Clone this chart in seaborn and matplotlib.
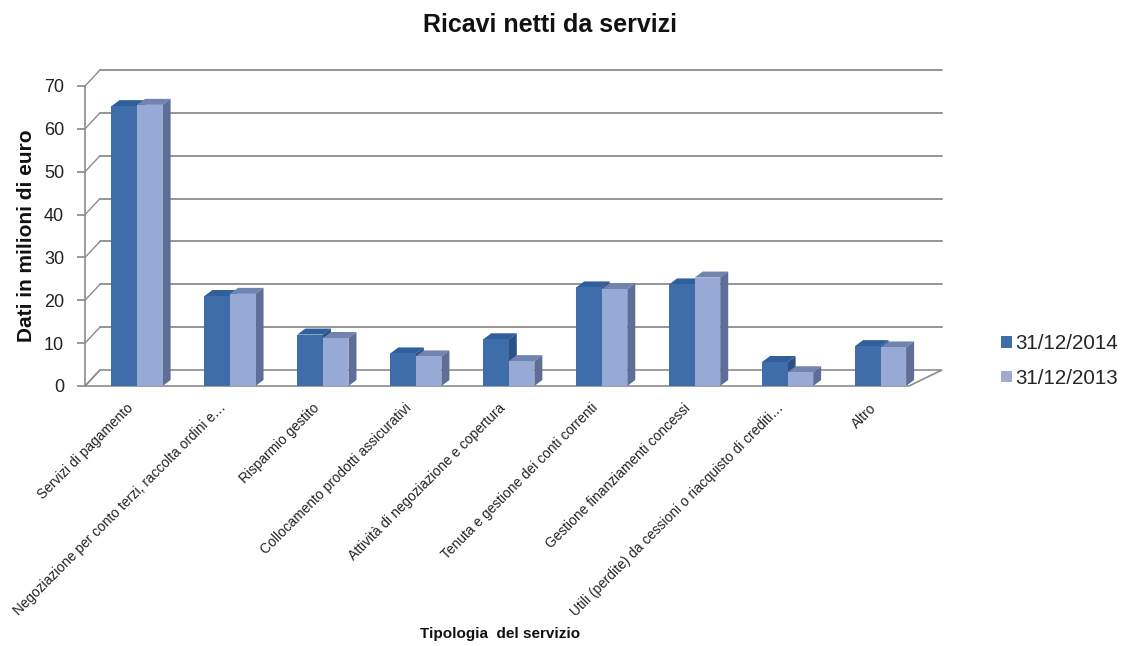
import matplotlib
matplotlib.use("Agg")
import matplotlib.pyplot as plt
import seaborn as sns
import pandas as pd
from matplotlib.patches import Polygon, Patch
from matplotlib.lines import Line2D
from matplotlib.transforms import ScaledTranslation

# ---------------- data ----------------
categories = [
    "Servizi di pagamento",
    "Negoziazione per conto terzi, raccolta ordini e…",
    "Risparmio gestito",
    "Collocamento prodotti assicurativi",
    "Attività di negoziazione e copertura",
    "Tenuta e gestione dei conti correnti",
    "Gestione finanziamenti concessi",
    "Utili (perdite) da cessioni o riacquisto di crediti…",
    "Altro",
]
series = ["31/12/2014", "31/12/2013"]
vals_2014 = [65.3, 21.0, 12.0, 7.6, 10.9, 23.0, 23.7, 5.6, 9.3]
vals_2013 = [65.6, 21.5, 11.2, 6.9, 5.8, 22.6, 25.3, 3.2, 9.0]
yticks = [0, 10, 20, 30, 40, 50, 60, 70]

title = "Ricavi netti da servizi"
ylabel = "Dati in milioni di euro"
xlabel = "Tipologia  del servizio"

# ---------------- style ----------------
front_cols = ["#3E6DA9", "#97AAD6"]
side_cols = ["#2B5186", "#5E6E96"]
top_cols = ["#30609C", "#7184B0"]
grid_col = "#8C8C8C"

df = pd.DataFrame({
    "cat": categories * 2,
    "val": vals_2014 + vals_2013,
    "series": [series[0]] * len(categories) + [series[1]] * len(categories),
})

sns.set_theme(style="white")
plt.rcParams["font.family"] = ["Liberation Sans", "DejaVu Sans"]

W, H = 1122, 646
fig = plt.figure(figsize=(W / 100, H / 100), dpi=100)
ax_left, ax_right, ax_bottom, ax_top = 85, 927, 386, 86
ax = fig.add_axes([ax_left / W, 1 - ax_bottom / H, (ax_right - ax_left) / W, (ax_bottom - ax_top) / H])

sns.barplot(data=df, x="cat", y="val", hue="series", palette=front_cols,
            width=0.55, ax=ax, legend=False, saturation=1, linewidth=0)

xmin, xmax = -0.56, 8.5
ymin, ymax = 0, 70
ax.set_xlim(xmin, xmax)
ax.set_ylim(ymin, ymax)

# pixel -> data conversions for pseudo-3D depth
px_x = (ax_right - ax_left) / (xmax - xmin)
px_y = (ax_bottom - ax_top) / (ymax - ymin)
bar_dx, bar_dy = 8 / px_x, 6 / px_y
wall_dx, wall_dy = 15 / px_x, 16 / px_y
x_back_right = xmax + wall_dx
x_front_right = x_back_right - 33 / px_x

# floor
floor = Polygon([(xmin, 0), (x_front_right, 0), (x_back_right, wall_dy), (xmin + wall_dx, wall_dy)],
                closed=True, facecolor="white", edgecolor=grid_col, lw=1.2, zorder=0.5, clip_on=False)
ax.add_patch(floor)

# back-wall gridlines and left-wall diagonals
for v in yticks:
    if v > 0:
        ax.add_line(Line2D([xmin + wall_dx, x_back_right], [v + wall_dy, v + wall_dy],
                           color=grid_col, lw=1.3, zorder=0.6, clip_on=False))
    ax.add_line(Line2D([xmin, xmin + wall_dx], [v, v + wall_dy],
                       color=grid_col, lw=1.0, zorder=0.6, clip_on=False))

# 3D faces on bars
bars = sorted([p for p in ax.patches if p is not floor and p.get_height() > 0], key=lambda p: p.get_x())
ref_b = matplotlib.colors.to_rgba(front_cols[0])[2]
for i, p in enumerate(bars):
    x0, w, h = p.get_x(), p.get_width(), p.get_height()
    s = 0 if abs(p.get_facecolor()[2] - ref_b) < 0.05 else 1
    z = 2 + i * 0.01
    p.set_zorder(z)
    p.set_clip_on(False)
    top = Polygon([(x0, h), (x0 + w, h), (x0 + w + bar_dx, h + bar_dy), (x0 + bar_dx, h + bar_dy)],
                  closed=True, facecolor=top_cols[s], edgecolor="none", zorder=z - 0.005, clip_on=False)
    side = Polygon([(x0 + w, 0), (x0 + w + bar_dx, bar_dy), (x0 + w + bar_dx, h + bar_dy), (x0 + w, h)],
                   closed=True, facecolor=side_cols[s], edgecolor="none", zorder=z - 0.005, clip_on=False)
    ax.add_patch(top)
    ax.add_patch(side)

# axes styling
for sp in ["top", "right", "bottom"]:
    ax.spines[sp].set_visible(False)
ax.spines["left"].set_color(grid_col)
ax.spines["left"].set_linewidth(1.2)
ax.set_yticks(yticks)
ax.tick_params(axis="y", which="major", left=True, length=6, color=grid_col, labelsize=13,
               labelcolor="#222222", pad=9)
ax.tick_params(axis="x", length=0, pad=2)
ax.set_xticks(range(len(categories)))
ax.set_xticklabels(categories, rotation=45, ha="right", rotation_mode="anchor",
                   fontsize=9.9, color="#222222")
shift = ScaledTranslation(-11 / 100, -12 / 100, fig.dpi_scale_trans)
for lab in ax.get_xticklabels():
    lab.set_transform(lab.get_transform() + shift)

ax.set_xlabel("")
ax.set_ylabel(ylabel, fontsize=15, fontweight="bold", color="#111111", labelpad=6)

fig.text(550 / W, 1 - 25 / H, title, ha="center", va="center", fontsize=18, fontweight="bold", color="#111111")
fig.text(500 / W, 1 - 634 / H, xlabel, ha="center", va="center", fontsize=11, fontweight="bold", color="#111111")

handles = [Patch(facecolor=front_cols[0], edgecolor="none"),
           Patch(facecolor="#A3AAD2", edgecolor="none")]
fig.legend(handles, series, loc="center left", bbox_to_anchor=(993 / W, 1 - 361 / H),
           frameon=False, fontsize=14.8, handlelength=0.5, handleheight=0.5,
           handletextpad=0.2, labelspacing=0.75, borderaxespad=0)

fig.savefig("out.png", dpi=100)
